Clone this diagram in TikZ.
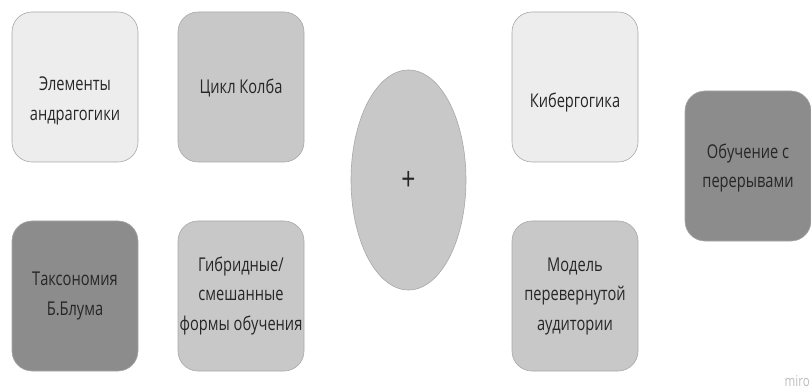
\documentclass[tikz,border=0pt]{standalone}
\usepackage{fontspec}
\setmainfont{Open Sans}[FakeStretch=0.77]
\usetikzlibrary{shapes.geometric}
\definecolor{cardlight}{HTML}{EDEDED}
\definecolor{cardmid}{HTML}{C8C8C8}
\definecolor{carddark}{HTML}{8C8C8C}
\definecolor{cardedge}{HTML}{A8A8A8}
\definecolor{inktext}{HTML}{262626}
\definecolor{markgray}{HTML}{BDBDBD}
\tikzset{
  card/.style={rectangle, rounded corners=20pt, draw=cardedge, line width=0.6pt,
    minimum width=126pt, minimum height=150pt, inner sep=0pt},
  cardtext/.style={align=center, text=inktext, inner sep=0pt,
    font=\fontsize{19}{29.5}\selectfont},
  hub/.style={ellipse, draw=cardedge, line width=0.6pt, fill=cardmid,
    minimum width=115pt, minimum height=220pt, inner sep=0pt}
}
\begin{document}
\begin{tikzpicture}[x=1pt,y=-1pt]
  \useasboundingbox (0,0) rectangle (811,390);

  % left column pair
  \node[card, fill=cardlight] (andr) at (75,87) {};
  \node[cardtext] (andrT) at ([yshift=-14pt]andr.center) {Элементы\\андрагогики};
  \node[card, fill=cardmid] (kolb) at (241,87) {};
  \node[cardtext] (kolbT) at ([yshift=-1pt]kolb.center) {Цикл Колба};
  \node[card, fill=carddark] (bloom) at (75,296) {};
  \node[cardtext] (bloomT) at (bloom.center) {Таксономия\\Б.Блума};
  \node[card, fill=cardmid] (hybr) at (241,296) {};
  \node[cardtext] (hybrT) at (hybr.center) {Гибридные/\\смешанные\\формы обучения};

  % central plus
  \node[hub] (plus) at (408.5,180) {};
  \node[text=inktext, font=\fontsize{32}{32}\selectfont, inner sep=0pt] (plusT) at ([yshift=-1pt]plus.center) {+};

  % right side
  \node[card, fill=cardlight] (cyber) at (575,87) {};
  \node[cardtext] (cyberT) at ([yshift=-16pt]cyber.center) {Кибергогика};
  \node[card, fill=cardmid] (flip) at (575,296) {};
  \node[cardtext] (flipT) at (flip.center) {Модель\\перевернутой\\аудитории};
  \node[card, fill=carddark] (breaks) at (748,166) {};
  \node[cardtext] (breaksT) at ([yshift=-2pt]breaks.center) {Обучение с\\перерывами};

  % watermark
  \node[anchor=south east, text=markgray, inner sep=0pt, font=\fontsize{15}{15}\selectfont] (mark) at (810,387) {miro};
\end{tikzpicture}
\end{document}
